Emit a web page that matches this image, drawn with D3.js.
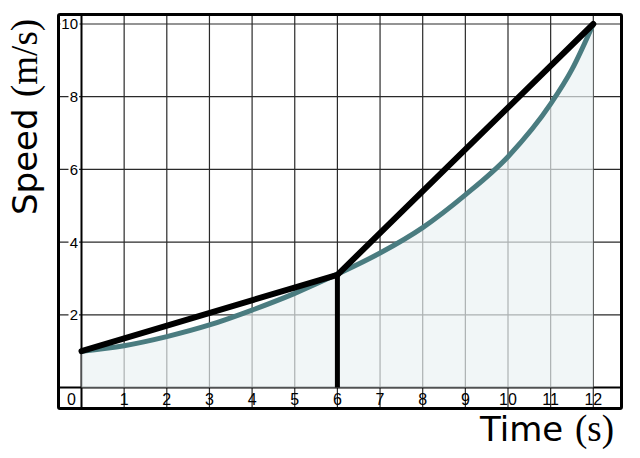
<!DOCTYPE html>
<html><head><meta charset="utf-8"><script src="https://cdn.jsdelivr.net/npm/d3@7"></script></head>
<body style="margin:0">
<svg id="chart" width="640" height="458"></svg>
<script>
// Data
const curveTimes  = [0, 1, 2, 3, 4, 5, 6, 7, 8, 9, 10, 11, 11.5, 12];
const curveSpeeds = [1, 1.15, 1.4, 1.72, 2.13, 2.59, 3.12, 3.7, 4.4, 5.3, 6.35, 7.8, 8.75, 10];
const chordTimes  = [0, 6, 12];
const chordSpeeds = [1, 3.1, 10];
const dropTimes   = [6, 6];
const dropSpeeds  = [3.1, 0];
const xTickValues = [1, 2, 3, 4, 5, 6, 7, 8, 9, 10, 11, 12];
const yTickValues = [2, 4, 6, 8, 10];

const svg = d3.select("#chart");
const x = d3.scaleLinear().domain([0, 12]).range([81.5, 593.3]);
const y = d3.scaleLinear().domain([0, 10]).range([387.5, 24]);

const frame = { left: 58.5, right: 621.5, top: 14.5, bottom: 408.5 };

// axis titles first
svg.append("text").attr("x", 480).attr("y", 441)
  .style("font-family", "DejaVu Sans").style("font-size", "34px").text("Time");
svg.append("text").attr("x", 575).attr("y", 441)
  .attr("font-family", "Liberation Serif")
  .style("font-family", "Liberation Serif").style("font-size", "37px").text("(s)");

svg.append("text").attr("transform", "translate(37,215) rotate(-90)")
  .style("font-family", "DejaVu Sans").style("font-size", "34px").text("Speed");
svg.append("text").attr("transform", "translate(37,97) rotate(-90)")
  .attr("font-family", "Liberation Serif")
  .style("font-family", "Liberation Serif").style("font-size", "37px").text("(m/s)");

// grid lines
const g = svg.append("g");
g.selectAll("line.vg").data(xTickValues).join("line")
  .attr("x1", d => x(d)).attr("x2", d => x(d))
  .attr("y1", frame.top).attr("y2", frame.bottom)
  .attr("stroke", "#2a2a2a").attr("stroke-width", 1.2);
g.selectAll("line.hg").data(yTickValues).join("line")
  .attr("x1", frame.left).attr("x2", frame.right)
  .attr("y1", d => y(d)).attr("y2", d => y(d))
  .attr("stroke", "#2a2a2a").attr("stroke-width", 1.2);

// axis lines
svg.append("line").attr("x1", x(0)).attr("x2", x(0))
  .attr("y1", frame.top).attr("y2", frame.bottom)
  .attr("stroke", "#000").attr("stroke-width", 2);
svg.append("line").attr("x1", frame.left).attr("x2", frame.right)
  .attr("y1", y(0)).attr("y2", y(0))
  .attr("stroke", "#000").attr("stroke-width", 2);

const curveData = curveTimes.map((t, i) => ({ t, v: curveSpeeds[i] }));
const curveGen = d3.curveMonotoneX;

// area fill
svg.append("path")
  .datum(curveData)
  .attr("d", d3.area().x(d => x(d.t)).y0(y(0)).y1(d => y(d.v)).curve(curveGen))
  .attr("fill", "#ebf1f3").attr("fill-opacity", 0.68);

// y tick labels with white background
yTickValues.forEach(v => {
  svg.append("rect")
    .attr("x", v >= 10 ? 60.5 : 68.5).attr("y", y(v) - 5)
    .attr("width", v >= 10 ? 19 : 10.5).attr("height", 11)
    .attr("fill", "#fff");
  svg.append("text").attr("x", 78).attr("y", y(v)).attr("dy", "0.36em")
    .attr("text-anchor", "end")
    .style("font-family", "Liberation Sans").style("font-size", "15px")
    .text(v);
});

// x tick labels
xTickValues.forEach(v => {
  svg.append("text").attr("x", x(v)).attr("y", 405).attr("text-anchor", "middle")
    .style("font-family", "Liberation Sans").style("font-size", "16px").text(v);
});
svg.append("text").attr("x", 71.5).attr("y", 405).attr("text-anchor", "middle")
  .style("font-family", "Liberation Sans").style("font-size", "16px").text("0");

// teal curve
svg.append("path")
  .datum(curveData)
  .attr("d", d3.line().x(d => x(d.t)).y(d => y(d.v)).curve(curveGen))
  .attr("fill", "none").attr("stroke", "#4a7c80").attr("stroke-width", 5)
  .attr("stroke-linecap", "round");

// black chord lines
const lineGen = d3.line().x(d => x(d.t)).y(d => y(d.v));
svg.append("path")
  .datum(chordTimes.map((t, i) => ({ t, v: chordSpeeds[i] })))
  .attr("d", lineGen)
  .attr("fill", "none").attr("stroke", "#000").attr("stroke-width", 6)
  .attr("stroke-linejoin", "round").attr("stroke-linecap", "round");
svg.append("path")
  .datum(dropTimes.map((t, i) => ({ t, v: dropSpeeds[i] })))
  .attr("d", lineGen)
  .attr("fill", "none").attr("stroke", "#000").attr("stroke-width", 5);

// outer frame
svg.append("rect")
  .attr("x", frame.left).attr("y", frame.top)
  .attr("width", frame.right - frame.left).attr("height", frame.bottom - frame.top)
  .attr("fill", "none").attr("stroke", "#000").attr("stroke-width", 3).attr("rx", 1.5);
</script></body></html>
